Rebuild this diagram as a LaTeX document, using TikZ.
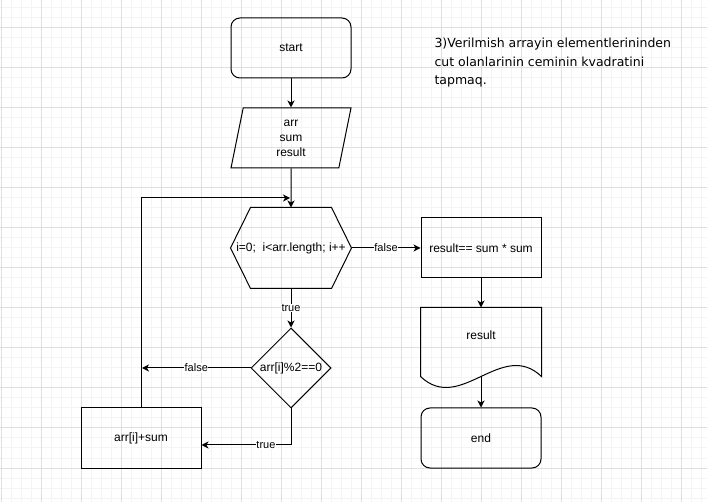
\documentclass[tikz,border=0pt]{standalone}
\usepackage{fontspec}
\setmainfont{Liberation Sans}
\newfontfamily\notefont{DejaVu Sans}
\usetikzlibrary{shapes.geometric}
\usetikzlibrary{arrows.meta}
\usetikzlibrary{calc}
\definecolor{grid1}{RGB}{244,244,244}
\definecolor{grid2}{RGB}{223,223,223}

\begin{document}
\begin{tikzpicture}[x=1pt, y=-1pt, line width=1pt,
  >={Stealth[length=7pt,width=7pt,inset=2pt]},
  every node/.style={font=\fontsize{12}{15}\selectfont, inner sep=0pt},
  term/.style={draw, rectangle, rounded corners=9pt, minimum width=120pt, minimum height=60pt},
  proc/.style={draw, rectangle, minimum width=120pt, minimum height=60pt},
  io/.style={draw, trapezium, trapezium left angle=71.57, trapezium right angle=108.43,
    trapezium stretches body, minimum width=120pt, minimum height=60pt, align=center},
  hexa/.style={rectangle, minimum width=120pt, minimum height=80pt},
  doc/.style={rectangle, minimum width=120pt, minimum height=68pt, text depth=14pt},
  cond/.style={draw, diamond, minimum width=80pt, minimum height=80pt},
  lbl/.style={fill=white, font=\fontsize{11}{13}\selectfont, inner sep=0.5pt}]
  \useasboundingbox (0,0) rectangle (707,502);
  % background grid
  \fill[white] (0,0) rectangle (707,502);
  \foreach \x in {1,11,...,701}
   \draw[grid1] (\x,0) -- (\x,502);
  \foreach \y in {8,18,...,498}
   \draw[grid1] (0,\y) -- (707,\y);
  \foreach \x in {1,41,...,681}
   \draw[grid2] (\x,0) -- (\x,502);
  \foreach \y in {28,68,...,468}
   \draw[grid2] (0,\y) -- (707,\y);

  \node[term] (n1) at (291,48) {start};
  \node[io] (n2) at (291,138) {arr\\sum\\result};
  \node[hexa] (n3) at (291,248) {i=0;\ \ i<arr.length; i++};
  \node[proc] (n4) at (481,248) {result== sum * sum};
  \node[doc] (n5) at (481,342) {result};
  \node[term] (n6) at (481,438) {end};
  \node[cond] (n7) at (291,368) {arr[i]\%2==0};
  \node[proc] (n8) at (141,438) {arr[i]+sum};
  \coordinate (c1) at (142,368);
  \coordinate (c2) at (290,198);
  \node[anchor=north west, align=left, font=\notefont\fontsize{12.5}{18.4}\selectfont] (t1) at (434,38)
   {3)Verilmish arrayin elementlerininden\\cut olanlarinin ceminin kvadratini\\tapmaq.};

  % hexagon and document outlines
  \draw ([xshift=20pt]n3.north west) -- ([xshift=-20pt]n3.north east) -- (n3.east)
   -- ([xshift=-20pt]n3.south east) -- ([xshift=20pt]n3.south west) -- (n3.west) -- cycle;
  \draw (n5.south west) -- (n5.north west) -- (n5.north east) -- (n5.south east)
   .. controls ($(n5.south east)+(-40,-38)$) and ($(n5.south west)+(40,38)$) .. (n5.south west) -- cycle;

  \foreach \from/\to in {n1/n2, n2/n3, n4/n5, n5/n6}
   \draw[->] (\from) -- (\to);
  \draw[->] (n3) -- node[lbl]{false} (n4);
  \draw[->] (n3) -- node[lbl]{true} (n7);
  \draw[->] (n7) -- node[lbl]{false} (c1);
  \draw[->] (n7.south) |- node[lbl, pos=0.64]{true} ([yshift=-7pt]n8.east);
  \draw[->] (n8) |- (c2);
\end{tikzpicture}
\end{document}
